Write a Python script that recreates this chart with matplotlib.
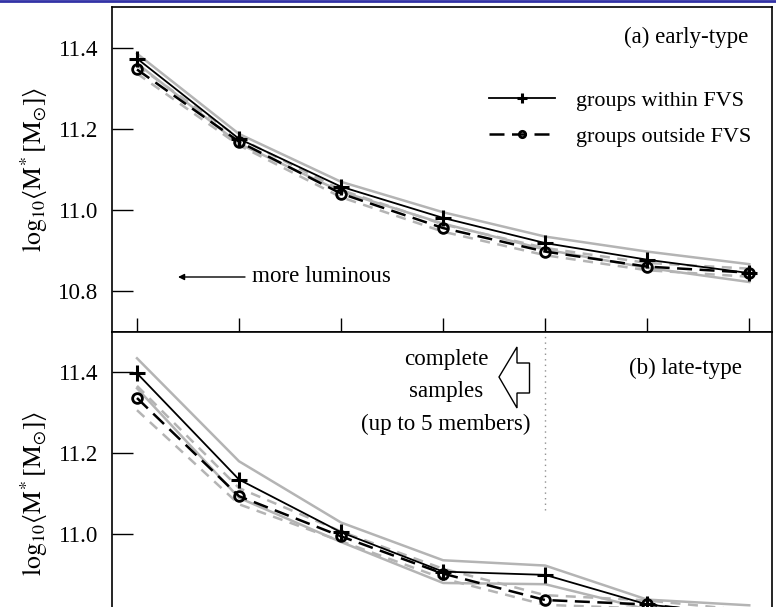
import matplotlib
matplotlib.use("Agg")
import matplotlib.pyplot as plt
import matplotlib.patches as mpatches
from matplotlib.lines import Line2D
import numpy as np

plt.rcParams['font.family'] = ['Liberation Serif', 'DejaVu Serif']
plt.rcParams['mathtext.fontset'] = 'stix'
plt.rcParams['font.size'] = 16.6

# ---- data ----
bins = [1, 2, 3, 4, 5, 6, 7]

early_within = [11.373, 11.175, 11.057, 10.980, 10.918, 10.877, 10.844]
early_within_err = [0.012, 0.012, 0.012, 0.014, 0.016, 0.020, 0.022]
early_outside = [11.346, 11.168, 11.040, 10.955, 10.897, 10.860, 10.845]
early_outside_err = [0.010, 0.009, 0.009, 0.009, 0.009, 0.009, 0.010]

late_within = [11.397, 11.135, 11.005, 10.908, 10.900, 10.827, 10.800]
late_within_err = [0.037, 0.045, 0.024, 0.028, 0.023, 0.012, 0.025]
late_outside = [11.336, 11.094, 10.995, 10.903, 10.838, 10.827, 10.800]
late_outside_err = [0.030, 0.020, 0.012, 0.012, 0.012, 0.010, 0.012]

yticks = [10.8, 11.0, 11.2, 11.4]
ylabel = r'$\log_{10}\!\left\langle \mathrm{M}^{*}\,[\mathrm{M}_{\odot}]\right\rangle$'

W, H = 776, 607
fig = plt.figure(figsize=(W / 100, H / 100), dpi=100)

def fx(px):
    return px / W

def fy(py):
    return 1 - py / H

left, right = 112, 771.7
mid = 331.5
ax_a = fig.add_axes([fx(left), fy(mid), fx(right - left), (mid - 7) / H])
ax_b = fig.add_axes([fx(left), fy(656), fx(right - left), (656 - mid) / H])

gray = '#b4b4b4'

def draw(ax, yin, ein, yout, eout):
    x = np.array(bins)
    yin = np.array(yin); ein = np.array(ein)
    yout = np.array(yout); eout = np.array(eout)
    ax.plot(x, yin + ein, color=gray, lw=1.8, zorder=1)
    ax.plot(x, yin - ein, color=gray, lw=1.8, zorder=1)
    ax.plot(x, yout + eout, color=gray, lw=1.8, ls=(0, (4, 3)), zorder=1)
    ax.plot(x, yout - eout, color=gray, lw=1.8, ls=(0, (4, 3)), zorder=1)
    l1, = ax.plot(x, yin, color='black', lw=1.3, marker='+', ms=12, mew=2.2,
                  zorder=3, label='groups within FVS')
    l2, = ax.plot(x, yout, color='black', lw=1.8, ls=(0, (6, 3)), marker='o', ms=7,
                  mew=2.0, mfc='none', mec='black', zorder=3,
                  label='groups outside FVS')
    ax.set_xlim(0.755, 7.22)
    ax.set_ylim(10.7, 11.5)
    ax.set_yticks(yticks)
    ax.set_yticklabels(['%.1f' % v for v in yticks])
    ax.set_xticks(bins)
    ax.tick_params(axis='y', direction='in', length=15, width=1, labelsize=16.6,
                   right=False, pad=10)
    ax.tick_params(axis='x', direction='in', length=10, width=1, top=False)
    ax.set_ylabel(ylabel, fontsize=18.5, labelpad=6)
    for s in ax.spines.values():
        s.set_linewidth(1.2)
    return l1, l2

l1, l2 = draw(ax_a, early_within, early_within_err, early_outside, early_outside_err)
ax_a.tick_params(axis='x', labelbottom=False)
draw(ax_b, late_within, late_within_err, late_outside, late_outside_err)
ax_b.tick_params(axis='x', bottom=False, labelbottom=False)

# panel a annotations
ax_a.text(0.965, 0.905, '(a) early-type', transform=ax_a.transAxes,
          ha='right', va='center', fontsize=16.6)
leg = ax_a.legend(handles=[l1, l2], loc='upper left', bbox_to_anchor=(0.571, 0.742),
                  frameon=False, fontsize=15.9, handlelength=3.0, handletextpad=0.95,
                  labelspacing=0.68, borderpad=0, borderaxespad=0, markerscale=0.65)
ax_a.annotate('', xy=(fx(178), fy(277)), xytext=(fx(245), fy(277)),
              xycoords='figure fraction', textcoords='figure fraction',
              arrowprops=dict(arrowstyle='-|>', color='black', lw=1,
                              mutation_scale=9, shrinkA=0, shrinkB=0))
fig.text(fx(252), fy(277), 'more luminous', ha='left', va='center', fontsize=16.6)

# panel b annotations
ax_b.text(0.955, 0.885, '(b) late-type', transform=ax_b.transAxes,
          ha='right', va='center', fontsize=16.6)
fig.text(fx(446), fy(392), 'complete\nsamples\n(up to 5 members)', ha='center',
         va='center', fontsize=16.6, linespacing=1.68)
ax_b.plot([5, 5], [11.06, 11.5], color='#909090', lw=1, ls=(0, (1, 3)), zorder=0)

# hollow block arrow pointing left
pts_px = [(499, 377), (517, 347), (517, 363), (529.5, 363), (529.5, 393),
          (517, 393), (517, 408)]
poly = mpatches.Polygon([(fx(px), fy(py)) for px, py in pts_px], closed=True,
                        transform=fig.transFigure, facecolor='white',
                        edgecolor='black', lw=1)
fig.add_artist(poly)

# top blue border line
fig.add_artist(Line2D([0, 1], [fy(1), fy(1)], transform=fig.transFigure,
                      color='#3232a6', lw=2))

fig.savefig('out.png', dpi=100)
